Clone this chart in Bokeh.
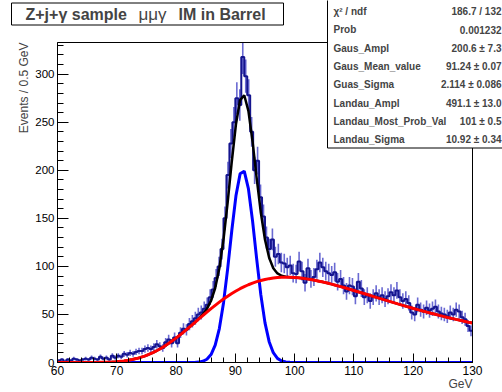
import numpy as np
from bokeh.plotting import figure
from bokeh.models import Label, BoxAnnotation, FixedTicker, Range1d
from bokeh.embed import file_html
from bokeh.resources import INLINE

# ---------------- data ----------------
bin_low = 60.0
bin_width = 0.5
counts = [
    2, 3, 1, 3, 2, 4, 3, 2, 3, 4, 3, 5, 4, 3, 6, 4, 5, 3, 7, 5,
    7, 6, 9, 8, 10, 9, 11, 12, 12, 14, 15, 14, 16, 19, 17, 15, 21, 24, 20, 26,
    20, 31, 35, 34, 40, 43, 46, 50, 52, 56, 60, 68, 76, 88, 100, 118,
    150, 195, 228, 250, 275, 268, 318, 298, 278, 240,
    200, 210, 172, 152, 130, 118, 128, 110, 113, 104,
    103, 99, 101, 93, 92, 105, 95, 83, 98, 87,
    89, 97, 104, 99, 95, 93, 91, 94, 84, 87,
    80, 74, 80, 79, 69, 84, 77, 68, 70, 64,
    68, 72, 68, 70, 66, 69, 73, 70, 75, 68,
    64, 66, 62, 52, 50, 60, 55, 53, 57, 54,
    56, 58, 53, 51, 50, 48, 52, 50, 55, 53,
    47, 45, 38, 33,
]
gaus_params = [200.6, 91.24, 2.114]      # ampl, mean, sigma
landau_params = [491.1, 101.0, 10.92]    # ampl, mpv, sigma
stat_names = ["\u03c7\u00b2 / ndf", "Prob", "Gaus_Ampl", "Gaus_Mean_value", "Guas_Sigma",
              "Landau_Ampl", "Landau_Most_Prob_Val", "Landau_Sigma"]
stat_values = ["186.7 / 132", "0.001232", "200.6 \u00b1 7.3", "91.24 \u00b1 0.07",
               "2.114 \u00b1 0.086", "491.1 \u00b1 13.0", "101 \u00b1 0.5", "10.92 \u00b1 0.34"]
x_ticks = [60, 70, 80, 90, 100, 110, 120, 130]
y_ticks = [0, 50, 100, 150, 200, 250, 300]
title_parts = ["Z+j+\u03b3 sample", "\u03bc\u03bc\u03b3", "IM in Barrel"]

# ---------------- layout ----------------
W, H = 502, 392
FL, FR, FT, FB = 57, 472, 42, 362          # plot-area pixel box inside the canvas
X0, X1 = 60.0, 130.0
Y0, Y1 = 0.0, 333.0
FONT = "Liberation Sans"

kx = (X1 - X0) / (FR - FL)
ky = (Y1 - Y0) / (FB - FT)
x_range = Range1d(X0 - FL * kx, X0 + (W - FL) * kx)
y_range = Range1d(Y0 - (H - FB) * ky, Y1 + FT * ky)

p = figure(width=W, height=H, x_range=x_range, y_range=y_range,
           output_backend="svg", toolbar_location=None, title=None,
           min_border=0, min_border_left=0, min_border_right=0,
           min_border_top=0, min_border_bottom=0)
p.background_fill_color = "white"
p.border_fill_color = "white"
p.outline_line_color = None
p.xgrid.visible = False
p.ygrid.visible = False

xa = p.xaxis[0]
ya = p.yaxis[0]
xa.fixed_location = Y0
ya.fixed_location = X0
xa.bounds = (X0, X1)
ya.bounds = (Y0, Y1)
for ax in (xa, ya):
    ax.axis_line_color = "black"
    ax.axis_line_width = 1
    ax.major_tick_line_color = "black"
    ax.minor_tick_line_color = "black"
    ax.major_tick_out = 0
    ax.minor_tick_out = 0
    ax.major_label_text_font = FONT
    ax.major_label_text_color = "black"

xa.ticker = FixedTicker(ticks=x_ticks, minor_ticks=list(range(60, 131, 2)))
ya.ticker = FixedTicker(ticks=y_ticks, minor_ticks=list(range(0, 331, 10)))
xa.major_tick_in = 9
xa.minor_tick_in = 5
ya.major_tick_in = 11
ya.minor_tick_in = 6
xa.major_label_text_font_size = "12px"
ya.major_label_text_font_size = "11.5px"
xa.major_label_standoff = 3
ya.major_label_standoff = 3

# ---------------- histogram ----------------
c = np.asarray(counts, dtype=float)
n = len(c)
edges = bin_low + bin_width * np.arange(n + 1)
centers = 0.5 * (edges[:-1] + edges[1:])
err = np.sqrt(c)
p.segment(x0=centers, y0=c - err, x1=centers, y1=np.minimum(c + err, Y1),
          line_color="#6a6ad2", line_width=1.6)
stx = np.repeat(edges, 2)[1:-1]
sty = np.repeat(c, 2)
p.line(stx, sty, line_color="#14148e", line_width=2)


# ---------------- fit functions ----------------
def landau_pdf(lam):
    lam = np.atleast_1d(lam).astype(float)
    cc = np.clip(np.exp(-1.0 - lam), 0.02, 60.0)[:, None]
    yy = np.linspace(0.0, 60.0, 40001)[None, :]
    s = cc + 1j * yy
    f = s * np.log(s) + lam[:, None] * s
    vals = np.exp(f).real
    return np.trapezoid(vals, yy[0], axis=1) / np.pi


xf = np.linspace(X0, X1, 101)
ga, gm, gs = gaus_params
la, lm, ls = landau_params
gaus = ga * np.exp(-0.5 * ((xf - gm) / gs) ** 2)
land = la * landau_pdf((xf - lm) / ls)
total = gaus + land

p.line(xf, total, line_color="black", line_width=2.5)
p.line(xf, gaus, line_color="#0000ff", line_width=3)
p.line(xf, land, line_color="#ff0000", line_width=3)

# mask everything drawn below the plot area (like the frame clip)
p.quad(left=[x_range.start], right=[x_range.end], bottom=[y_range.start], top=[Y0],
       fill_color="white", line_color=None)

# frame (top and right edges; left/bottom are the axes)
p.add_layout(BoxAnnotation(left=X0, right=X1, bottom=Y0, top=Y1, fill_alpha=0.0,
                           fill_color=None, line_color="black", line_width=1,
                           line_alpha=1.0))


def lab(px, py, text, size, style="normal", align="left", angle=0.0):
    p.add_layout(Label(x=px, y=H - py, x_units="screen", y_units="screen",
                       text=text, text_font=FONT, text_font_size=size,
                       text_font_style=style, text_align=align,
                       text_baseline="middle", angle=angle))


def box(x_left, x_right, y_top, y_bottom):
    p.add_layout(BoxAnnotation(left=x_left, right=x_right,
                               top=H - y_top, bottom=H - y_bottom,
                               left_units="screen", right_units="screen",
                               top_units="screen", bottom_units="screen",
                               fill_color="white", fill_alpha=1.0,
                               line_color="black", line_width=1, line_alpha=1.0))


# ---------------- axis titles ----------------
lab(472, 383.5, "GeV", "12px", align="right")
lab(23, 42, "Events / 0.5 GeV", "12px", align="right", angle=np.pi / 2)

# ---------------- title box ----------------
box(11, 283, 2.5, 24.5)
for t, x, w, s in zip(title_parts, [25, 138, 178], ["bold", "normal", "bold"],
                      ["16px", "17px", "16px"]):
    lab(x, 13.5, t, s, style=w)

# ---------------- stats box ----------------
box(327, 506, -2, 147.5)
for k, (nm, vl) in enumerate(zip(stat_names, stat_values)):
    yy = 11 + 18.3 * k
    lab(333, yy, nm, "10px", style="bold")
    lab(501, yy, vl, "10px", style="bold", align="right")

open("out.html", "w").write(file_html(p, INLINE))
